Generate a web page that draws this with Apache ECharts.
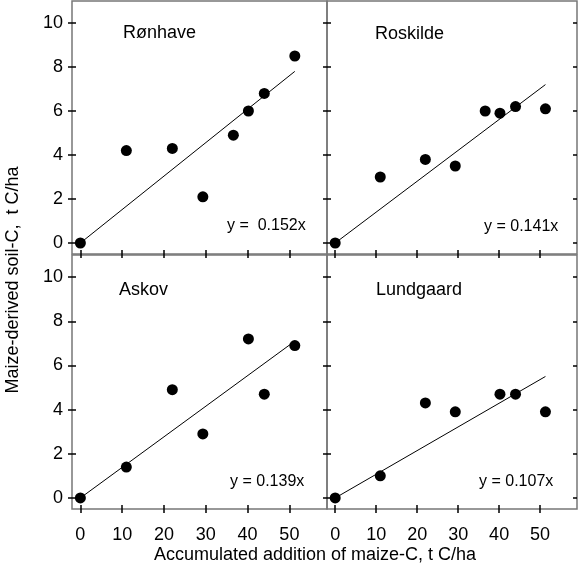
<!DOCTYPE html>
<html>
<head>
<meta charset="utf-8">
<script src="https://cdn.jsdelivr.net/npm/echarts@6/dist/echarts.min.js"></script>
<style>
  html, body { margin: 0; padding: 0; background: #fff; }
  #chart { width: 580px; height: 568px; }
</style>
</head>
<body>
<div id="chart"></div>
<script>
// values
const sites = ["Rønhave", "Roskilde", "Askov", "Lundgaard"];
const equations = ["y =  0.152x", "y = 0.141x", "y = 0.139x", "y = 0.107x"];

const ronhaveX = [0, 11, 22, 29.3, 36.6, 40.2, 44, 51.3];
const ronhaveY = [0, 4.2, 4.3, 2.1, 4.9, 6.0, 6.8, 8.5];
const roskildeX = [0, 11, 22, 29.3, 36.6, 40.2, 44, 51.3];
const roskildeY = [0, 3.0, 3.8, 3.5, 6.0, 5.9, 6.2, 6.1];
const askovX = [0, 11, 22, 29.3, 40.2, 44, 51.3];
const askovY = [0, 1.4, 4.9, 2.9, 7.2, 4.7, 6.9];
const lundgaardX = [0, 11, 22, 29.3, 40.2, 44, 51.3];
const lundgaardY = [0, 1.0, 4.3, 3.9, 4.7, 4.7, 3.9];

// regression lines through the origin, end point
const fitEndX = 51.3;
const fitEndY = [7.8, 7.2, 7.1, 5.5];

const xTicks = [0, 10, 20, 30, 40, 50];
const yTicks = [0, 2, 4, 6, 8, 10];

const seriesX = [ronhaveX, roskildeX, askovX, lundgaardX];
const seriesY = [ronhaveY, roskildeY, askovY, lundgaardY];

const font = "'Liberation Sans', Arial, sans-serif";

// panel boxes: top-left, top-right, bottom-left, bottom-right
const grids = [
  { left: 72, top: 1, width: 255, height: 253 },
  { left: 327, top: 1, width: 250, height: 253 },
  { left: 72, top: 255, width: 255, height: 254 },
  { left: 327, top: 255, width: 250, height: 254 }
];

const tickStyle = { color: "#000", width: 1.5 };
const noLine = { show: false, onZero: false };

let xAxes = [];
let yAxes = [];
let series = [];
let texts = [];

grids.forEach(function (g, i) {
  const bottomRow = i >= 2;
  const leftCol = i % 2 === 0;

  // bottom axis: inside ticks + labels, then a twin for the outside half of the tick
  xAxes.push({
    gridIndex: i, type: "value", min: -2, max: 59, position: "bottom",
    axisLine: noLine, splitLine: { show: false },
    axisTick: { inside: true, length: 4, customValues: xTicks, lineStyle: tickStyle },
    axisLabel: { show: bottomRow, customValues: xTicks, margin: 17, fontSize: 18, color: "#000", fontFamily: font }
  });
  xAxes.push({
    gridIndex: i, type: "value", min: -2, max: 59, position: "bottom",
    axisLine: noLine, splitLine: { show: false },
    axisTick: { inside: false, length: 4, customValues: xTicks, lineStyle: tickStyle },
    axisLabel: { show: false }
  });

  yAxes.push({
    gridIndex: i, type: "value", min: -0.5, max: 11, position: "left",
    axisLine: noLine, splitLine: { show: false },
    axisTick: { inside: true, length: 4, customValues: yTicks, lineStyle: tickStyle },
    axisLabel: { show: leftCol, customValues: yTicks, margin: 9, fontSize: 18, color: "#000", fontFamily: font }
  });
  yAxes.push({
    gridIndex: i, type: "value", min: -0.5, max: 11, position: "left",
    axisLine: noLine, splitLine: { show: false },
    axisTick: { inside: false, length: 4, customValues: yTicks, lineStyle: tickStyle },
    axisLabel: { show: false }
  });
  yAxes.push({
    gridIndex: i, type: "value", min: -0.5, max: 11, position: "right",
    axisLine: noLine, splitLine: { show: false },
    axisTick: { inside: true, length: 4, customValues: yTicks, lineStyle: tickStyle },
    axisLabel: { show: false }
  });

  series.push({
    name: sites[i] + " fit",
    type: "line",
    xAxisIndex: i * 2,
    yAxisIndex: i * 3,
    data: [[0, 0], [fitEndX, fitEndY[i]]],
    showSymbol: false,
    silent: true,
    lineStyle: { color: "#000", width: 1 },
    z: 2
  });
  series.push({
    name: sites[i],
    type: "scatter",
    xAxisIndex: i * 2,
    yAxisIndex: i * 3,
    data: seriesX[i].map(function (x, k) { return [x, seriesY[i][k]]; }),
    symbolSize: 11,
    itemStyle: { color: "#000", opacity: 1 },
    z: 3
  });
});

// panel names and equations
const namePos = [[123, 24], [375, 25], [119, 281], [376, 281]];
const eqPos = [[227, 218], [484, 219], [230, 474], [479, 474]];
sites.forEach(function (s, i) {
  texts.push({
    type: "text", left: namePos[i][0], top: namePos[i][1],
    style: { text: s, fontSize: 18, fontFamily: font, fill: "#000" }
  });
  texts.push({
    type: "text", left: eqPos[i][0], top: eqPos[i][1],
    style: { text: equations[i], fontSize: 16, fontFamily: font, fill: "#000" }
  });
});

// axis titles
texts.push({
  type: "text", x: 315, y: 555,
  style: { text: "Accumulated addition of maize-C, t C/ha", fontSize: 18, fontFamily: font, fill: "#000", align: "center", verticalAlign: "middle" }
});
texts.push({
  type: "text", x: 13, y: 280, rotation: Math.PI / 2,
  style: { text: "Maize-derived soil-C,  t C/ha", fontSize: 18, fontFamily: font, fill: "#000", align: "center", verticalAlign: "middle" }
});

const mychart = echarts.init(document.getElementById("chart"));
let option = {
  backgroundColor: "#fff",
  animation: false,
  grid: grids.map(function (g) {
    return Object.assign({ show: true, borderColor: "#777", borderWidth: 1.5, backgroundColor: "transparent", containLabel: false }, g);
  }),
  xAxis: xAxes,
  yAxis: yAxes,
  series: series,
  graphic: texts
};
mychart.setOption(option);
</script>
</body>
</html>
